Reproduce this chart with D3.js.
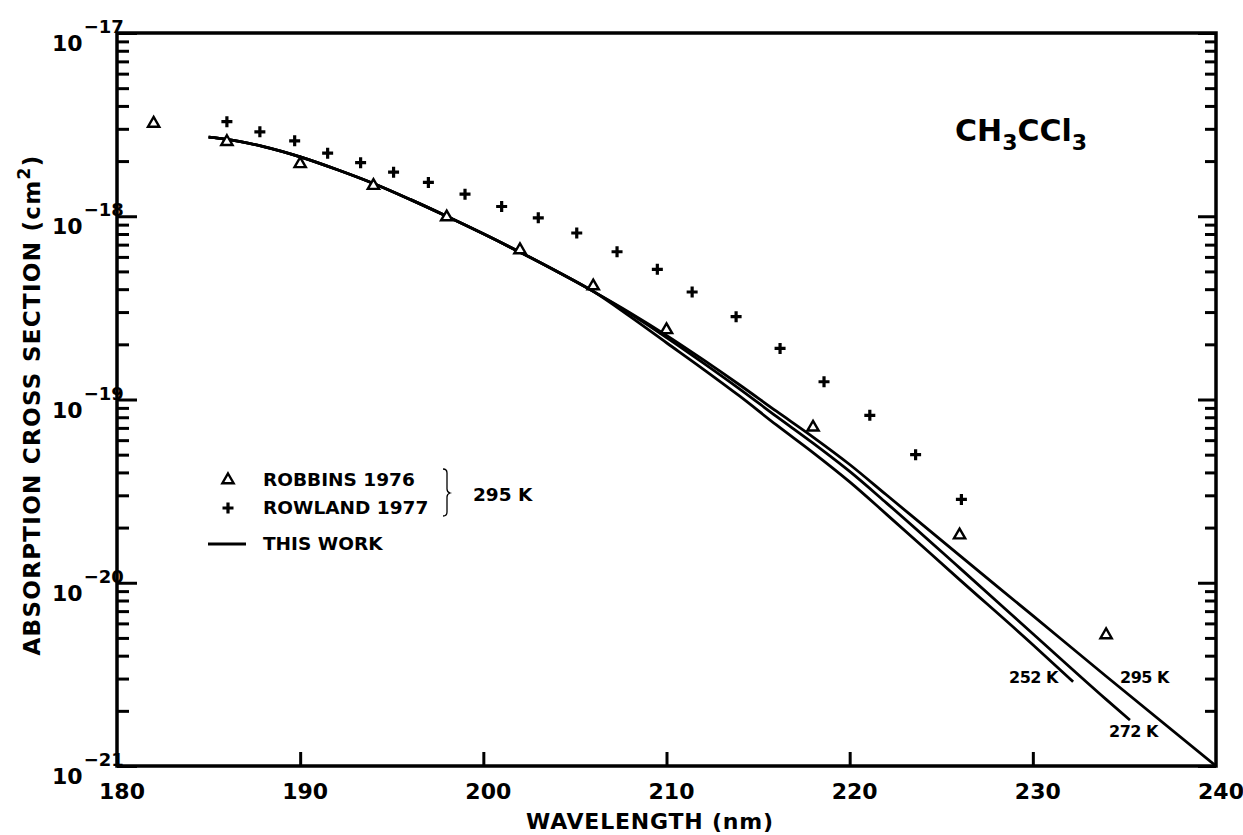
<!DOCTYPE html>
<html><head><meta charset="utf-8">
<script src="https://cdn.jsdelivr.net/npm/d3@7"></script>
<style>
body{margin:0;background:#fff;}
text{font-family:"DejaVu Sans",sans-serif;fill:#000;font-weight:bold;}
</style></head>
<body><svg id="c" width="1243" height="835"></svg>
<script>
// ---- data ----
const robbinsWl  = [182,186,190,194,198,202,206,210,218,226,234];
const robbinsVal = [3.21e-18,2.55e-18,1.93e-18,1.47e-18,0.99e-18,6.55e-19,4.16e-19,2.40e-19,7.05e-20,1.82e-20,5.19e-21];

const rowlandWl  = [186,187.8,189.7,191.5,193.3,195.1,197,199,201,203,205.1,207.3,209.5,211.4,213.8,216.2,218.6,221.1,223.6,226.1];
const rowlandVal = [3.28e-18,2.89e-18,2.58e-18,2.21e-18,1.96e-18,1.74e-18,1.53e-18,1.32e-18,1.13e-18,9.8e-19,8.1e-19,6.4e-19,5.13e-19,3.86e-19,2.83e-19,1.9e-19,1.25e-19,8.2e-20,5.0e-20,2.85e-20];

const wl295  = [185,186,188,190,192,194,196,198,200,202,204,206,208,210,212,214,216,218,220,222,226,230,234,240];
const val295 = [2.70e-18,2.63e-18,2.40e-18,2.11e-18,1.80e-18,1.51e-18,1.236e-18,1.00e-18,8.02e-19,6.37e-19,5.01e-19,3.89e-19,2.98e-19,2.24e-19,1.65e-19,1.20e-19,8.63e-20,6.24e-20,4.42e-20,3.02e-20,1.41e-20,6.61e-21,3.09e-21,1.0e-21];

const wl272  = [185,186,188,190,192,194,196,198,200,202,204,206,208,210,212,214,216,218,220,222,226,230,234,235.3];
const val272 = [2.70e-18,2.63e-18,2.40e-18,2.11e-18,1.80e-18,1.51e-18,1.236e-18,1.00e-18,8.02e-19,6.37e-19,5.01e-19,3.89e-19,2.94e-19,2.18e-19,1.585e-19,1.14e-19,8.09e-20,5.78e-20,4.05e-20,2.73e-20,1.205e-20,5.27e-21,2.31e-21,1.78e-21];

const wl252  = [185,186,188,190,192,194,196,198,200,202,204,206,208,210,212,214,216,218,220,222,226,230,232.2];
const val252 = [2.70e-18,2.63e-18,2.40e-18,2.11e-18,1.80e-18,1.51e-18,1.236e-18,1.00e-18,8.02e-19,6.37e-19,5.01e-19,3.89e-19,2.84e-19,2.04e-19,1.466e-19,1.042e-19,7.26e-20,5.13e-20,3.55e-20,2.37e-20,1.04e-20,4.59e-21,2.88e-21];

const xTickVals = [180,190,200,210,220,230,240];
const yDecadeExp = [-17,-18,-19,-20,-21];
const curveLabels = ["252 K","272 K","295 K"];
const legendLabels = ["ROBBINS 1976","ROWLAND 1977","THIS WORK"];
const bracketLabel = "295 K";
const titleParts = ["CH","3","CCl","3"];

// ---- layout ----
const L=117, R=1216, T=33, B=766;
const svg=d3.select("#c");
const x=d3.scaleLinear().domain([180,240]).range([L,R]);
const y=d3.scaleLog().domain([1e-21,1e-17]).range([B,T]);

const majors = yDecadeExp.map(e=>Math.pow(10,e));
const minors = [];
for(let e=-21;e<-17;e++){ for(let m=2;m<=9;m++) minors.push(m*Math.pow(10,e)); }

function styleAxis(g,w){ g.select(".domain").remove(); g.selectAll("line").attr("stroke","#000").attr("stroke-width",w); }

svg.append("g").attr("transform",`translate(${L},0)`).call(d3.axisLeft(y).tickValues(majors).tickSize(-20).tickFormat("")).call(styleAxis,3);
svg.append("g").attr("transform",`translate(${L},0)`).call(d3.axisLeft(y).tickValues(minors).tickSize(-12).tickFormat("")).call(styleAxis,3);
svg.append("g").attr("transform",`translate(${R},0)`).call(d3.axisRight(y).tickValues(majors).tickSize(-18).tickFormat("")).call(styleAxis,3);
svg.append("g").attr("transform",`translate(${R},0)`).call(d3.axisRight(y).tickValues(minors).tickSize(-11).tickFormat("")).call(styleAxis,3);
svg.append("g").attr("transform",`translate(0,${B})`).call(d3.axisBottom(x).tickValues(xTickVals.slice(1,-1)).tickSize(-14).tickFormat("")).call(styleAxis,3);

// frame
svg.append("rect").attr("x",L).attr("y",T).attr("width",R-L).attr("height",B-T)
  .attr("fill","none").attr("stroke","#000").attr("stroke-width",3.5);

// y tick labels
yDecadeExp.forEach(e=>{
  const yy=y(Math.pow(10,e));
  const t=svg.append("text").attr("x",52).attr("y",yy+18).attr("font-size",22);
  t.append("tspan").text("10");
  t.append("tspan").attr("dy",-18).attr("font-size",18).attr("dx",1).text("\u2212"+String(-e));
});
// x tick labels
xTickVals.forEach(v=>{
  svg.append("text").attr("x",x(v)+5).attr("y",799).attr("font-size",22).attr("text-anchor","middle").text(v);
});

// axis titles
svg.append("text").attr("x",650).attr("y",829).attr("font-size",22).attr("text-anchor","middle")
  .attr("letter-spacing",0.8).text("WAVELENGTH (nm)");
const yl=svg.append("text").attr("transform","translate(40,405) rotate(-90)").attr("font-size",23)
  .attr("text-anchor","middle").attr("letter-spacing",1.3);
yl.append("tspan").text("ABSORPTION CROSS SECTION (cm");
yl.append("tspan").attr("dy",-10).attr("font-size",17).text("2");
yl.append("tspan").attr("dy",10).text(")");

// curves
const line=d3.line().x(d=>x(d[0])).y(d=>y(d[1])).curve(d3.curveMonotoneX);
[[wl295,val295],[wl272,val272],[wl252,val252]].forEach(([w,v])=>{
  svg.append("path").attr("d",line(w.map((d,i)=>[d,v[i]]))).attr("fill","none")
    .attr("stroke","#000").attr("stroke-width",2.8);
});

// symbols
const tri=d3.symbol().type(d3.symbolTriangle).size(55);
svg.append("g").selectAll("path").data(robbinsWl.map((d,i)=>[d,robbinsVal[i]])).join("path")
  .attr("d",tri).attr("transform",d=>`translate(${x(d[0])},${y(d[1])})`)
  .attr("fill","#fff").attr("stroke","#000").attr("stroke-width",2.4);
const plusPath="M-5.5,0H5.5M0,-5.5V5.5";
svg.append("g").selectAll("path").data(rowlandWl.map((d,i)=>[d,rowlandVal[i]])).join("path")
  .attr("d",plusPath).attr("transform",d=>`translate(${x(d[0])},${y(d[1])})`)
  .attr("fill","none").attr("stroke","#000").attr("stroke-width",3.2);

// curve labels
svg.append("text").attr("x",1009).attr("y",683).attr("font-size",16).attr("letter-spacing",-0.5).text(curveLabels[0]);
svg.append("text").attr("x",1109).attr("y",737).attr("font-size",16).attr("letter-spacing",-0.5).text(curveLabels[1]);
svg.append("text").attr("x",1120).attr("y",683).attr("font-size",16).attr("letter-spacing",-0.5).text(curveLabels[2]);

// title
const tt=svg.append("text").attr("x",955).attr("y",141).attr("font-size",30);
tt.append("tspan").text(titleParts[0]);
tt.append("tspan").attr("dy",9).attr("font-size",22).text(titleParts[1]);
tt.append("tspan").attr("dy",-9).text(titleParts[2]);
tt.append("tspan").attr("dy",9).attr("font-size",22).text(titleParts[3]);

// legend
svg.append("path").attr("d",tri).attr("transform","translate(228,480)")
  .attr("fill","#fff").attr("stroke","#000").attr("stroke-width",2.4);
svg.append("path").attr("d",plusPath).attr("transform","translate(228,508)")
  .attr("fill","none").attr("stroke","#000").attr("stroke-width",3.2);
svg.append("line").attr("x1",208).attr("x2",246).attr("y1",544).attr("y2",544).attr("stroke","#000").attr("stroke-width",2.8);
[479,507,543].forEach((yy,i)=>{
  svg.append("text").attr("x",263).attr("y",yy+7).attr("font-size",18.5).text(legendLabels[i]);
});
svg.append("path").attr("d","M443,469 Q447,469 447,473 V489 Q447,492 450,493 Q447,494 447,497 V512 Q447,516 443,516")
  .attr("fill","none").attr("stroke","#000").attr("stroke-width",1.3);
svg.append("text").attr("x",473).attr("y",501).attr("font-size",18.5).text(bracketLabel);
</script></body></html>
